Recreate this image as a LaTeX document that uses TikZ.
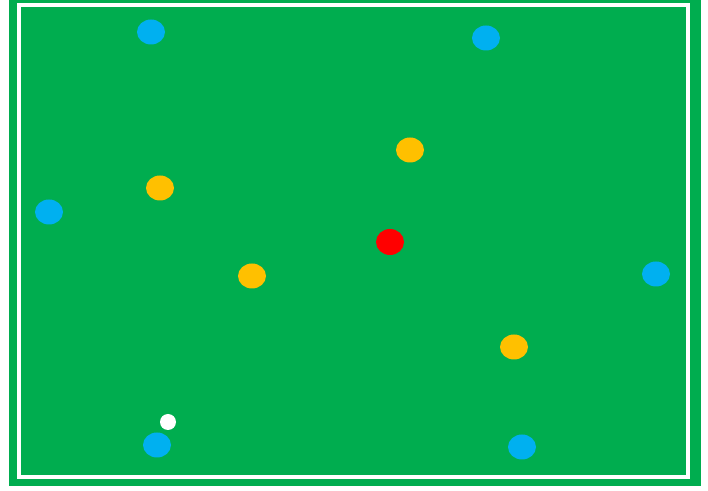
\documentclass[tikz,border=0pt]{standalone}
\usepackage{xcolor}
\usepackage{tikz}
\usetikzlibrary{shapes.geometric}
\definecolor{pitch}{RGB}{0,173,79}
\definecolor{teamblue}{RGB}{0,176,240}
\definecolor{teamyellow}{RGB}{255,192,0}

\begin{document}
\begin{tikzpicture}[
  x=0.5pt, y=-0.5pt,
  field/.style={fill=pitch, draw=none},
  touchline/.style={draw=white, line width=2pt},
  player/.style={ellipse, draw=none, inner sep=0pt, minimum width=14pt, minimum height=12.5pt},
  blueplayer/.style={player, fill=teamblue},
  yellowplayer/.style={player, fill=teamyellow},
  redplayer/.style={player, fill=red, minimum height=13pt},
  ballnode/.style={circle, draw=none, fill=white, inner sep=0pt, minimum size=8pt}
]
\useasboundingbox (0,0) rectangle (708,491);
\fill[white] (0,0) rectangle (708,491);
\path[field] (9,0) rectangle (701,486);
\draw[touchline] (19,5.5) rectangle (688,477);

\node[blueplayer] (B1) at (151,32) {};
\node[blueplayer] (B2) at (486,38) {};
\node[blueplayer] (B3) at (49,212) {};
\node[blueplayer] (B4) at (656,274) {};
\node[blueplayer] (B5) at (157,445) {};
\node[blueplayer] (B6) at (522,447) {};

\node[yellowplayer] (Y1) at (410,150) {};
\node[yellowplayer] (Y2) at (160,188) {};
\node[yellowplayer] (Y3) at (252,276) {};
\node[yellowplayer] (Y4) at (514,347) {};

\node[redplayer] (R) at (390,242) {};
\node[ballnode] (ball) at (168,422) {};
\end{tikzpicture}
\end{document}
